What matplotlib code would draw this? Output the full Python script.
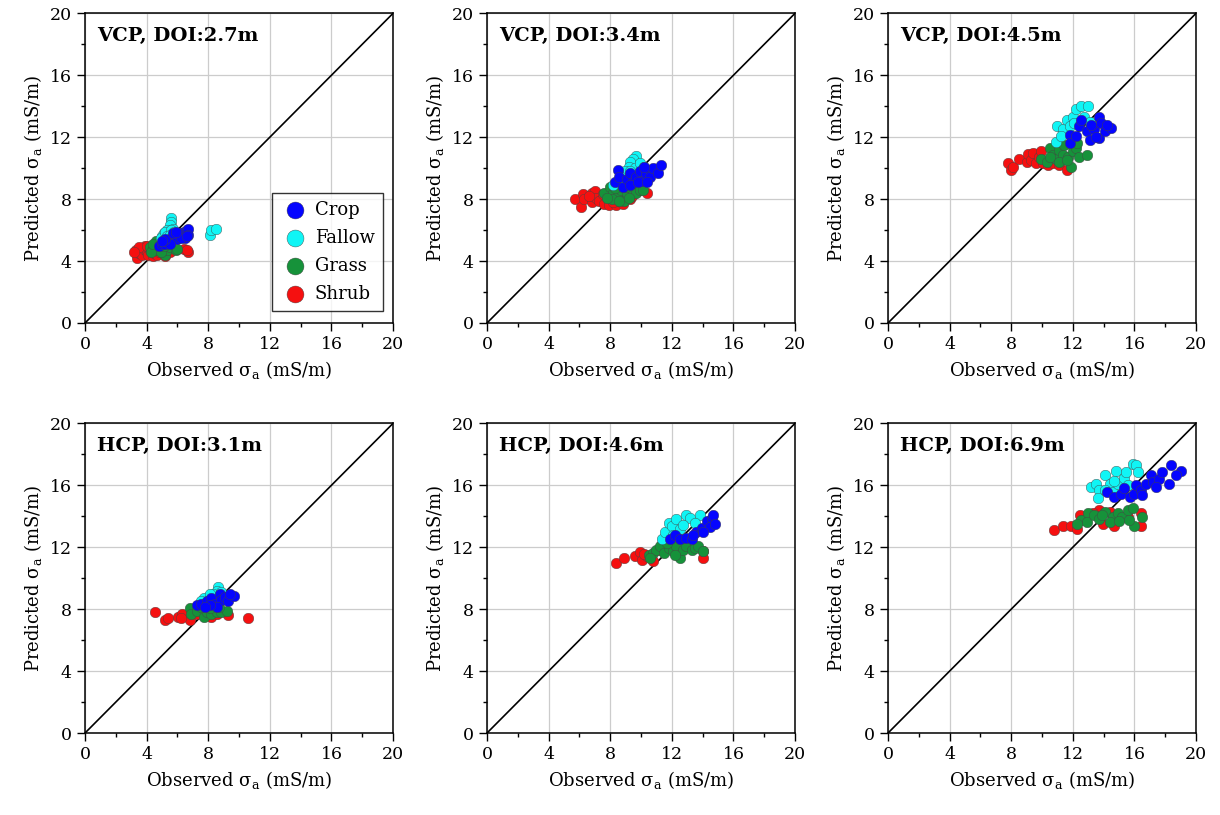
import matplotlib
matplotlib.use("Agg")
import matplotlib.pyplot as plt
from matplotlib.ticker import MultipleLocator

plt.rcParams['font.family'] = ['DejaVu Serif']
plt.rcParams['mathtext.fontset'] = 'dejavuserif'

classes = ["Crop", "Fallow", "Grass", "Shrub"]
colors = ["#0505ff", "#10f5f5", "#16923a", "#f51010"]
titles = ["VCP, DOI:2.7m", "VCP, DOI:3.4m", "VCP, DOI:4.5m",
          "HCP, DOI:3.1m", "HCP, DOI:4.6m", "HCP, DOI:6.9m"]

# (observed, predicted) pairs per panel and class
vcp27_crop = [(4.8, 5.0), (5.0, 5.1), (5.1, 5.2), (5.2, 5.1), (5.3, 5.3), (5.4, 5.2), (5.5, 5.4),
              (5.6, 5.3), (5.7, 5.5), (5.8, 5.6), (5.9, 5.5), (6.0, 5.7), (6.1, 5.6), (6.2, 5.8),
              (6.3, 5.7), (6.4, 5.9), (6.5, 5.8), (6.6, 6.0), (6.7, 6.1), (6.7, 5.7), (6.5, 5.5),
              (6.0, 5.4), (5.5, 5.1), (5.2, 5.4), (5.7, 5.8), (6.2, 5.5), (5.0, 5.3), (5.9, 5.9),
              (6.6, 5.6)]
vcp27_fallow = [(5.6, 6.8), (5.6, 6.5), (5.5, 6.3), (5.3, 6.0), (5.1, 5.8), (5.0, 5.6), (4.9, 5.5),
                (5.4, 5.8), (5.7, 6.1), (5.2, 5.9), (5.6, 6.0), (5.8, 5.9), (5.3, 5.6), (5.5, 5.7),
                (8.1, 5.7), (8.2, 6.0), (8.5, 6.1)]
vcp27_grass = [(4.2, 4.9), (4.4, 4.8), (4.5, 5.0), (4.6, 4.7), (4.7, 4.9), (4.8, 5.2), (4.6, 5.3),
               (5.0, 4.8), (5.2, 4.4), (5.3, 4.7), (5.5, 4.9), (5.9, 4.7), (6.0, 4.8), (4.3, 4.6),
               (4.9, 4.6), (5.1, 5.0), (4.4, 5.1)]
vcp27_shrub = [(3.3, 4.7), (3.4, 4.2), (3.5, 4.5), (3.6, 4.7), (3.7, 4.4), (3.8, 4.8), (3.9, 5.0),
               (4.0, 4.6), (4.1, 4.4), (4.2, 4.7), (4.4, 4.3), (4.5, 4.5), (4.7, 4.4), (3.5, 4.9),
               (4.0, 5.0), (5.2, 4.3), (5.5, 4.6), (6.4, 4.8), (6.7, 4.6), (6.6, 4.7), (3.2, 4.6),
               (4.8, 4.6)]

vcp34_crop = [(8.3, 9.1), (8.5, 9.9), (8.6, 9.45), (8.85, 8.8), (9.1, 9.3), (9.3, 9.7), (9.5, 9.1),
              (9.7, 9.45), (9.9, 9.8), (10.1, 9.2), (10.3, 9.7), (10.55, 9.45), (10.8, 10.0),
              (11.1, 9.7), (11.3, 10.2), (10.2, 10.1), (9.3, 8.9), (9.8, 9.1), (10.4, 9.1)]
vcp34_fallow = [(9.7, 10.8), (9.5, 10.6), (9.3, 10.4), (9.2, 10.1), (9.6, 10.0), (8.95, 9.8),
                (8.7, 9.45), (8.5, 9.1), (8.2, 8.9), (9.9, 10.3), (10.2, 10.1), (9.3, 9.8)]
vcp34_grass = [(7.6, 8.4), (8.0, 8.8), (8.2, 8.4), (8.5, 8.2), (8.7, 8.6), (8.9, 7.85), (9.1, 8.4),
               (9.5, 8.5), (9.7, 8.4), (9.9, 8.6), (8.1, 8.0), (7.8, 8.1), (8.3, 8.7), (9.0, 8.8),
               (10.1, 8.6), (8.6, 7.85), (9.2, 8.1)]
vcp34_shrub = [(5.7, 8.0), (6.2, 8.3), (6.1, 7.5), (6.3, 8.0), (6.8, 8.4), (6.8, 7.8), (7.0, 8.5),
               (7.1, 8.1), (7.3, 7.9), (7.6, 7.7), (7.9, 7.6), (8.4, 7.6), (8.6, 7.9), (9.3, 8.0),
               (9.4, 8.2), (10.4, 8.4), (6.6, 8.2), (7.5, 8.3), (8.2, 7.8), (8.8, 7.7)]

vcp45_crop = [(11.8, 12.15), (11.8, 11.6), (12.2, 12.05), (12.4, 12.7), (12.5, 13.1), (12.9, 12.4),
              (13.1, 11.8), (13.4, 12.5), (13.7, 13.3), (13.85, 12.9), (13.7, 11.95), (14.1, 12.4),
              (14.5, 12.6), (13.5, 12.0), (13.2, 12.8), (14.2, 12.8)]
vcp45_fallow = [(10.9, 11.7), (11.0, 12.7), (11.35, 12.5), (11.6, 13.1), (12.0, 13.3), (12.2, 13.8),
                (12.5, 14.0), (13.0, 14.0), (12.75, 13.3), (11.8, 12.7), (12.1, 12.9), (13.1, 13.0),
                (13.3, 12.7), (11.25, 12.05)]
vcp45_grass = [(9.95, 10.6), (10.3, 10.4), (10.5, 11.3), (10.7, 10.85), (10.9, 10.6), (11.1, 11.2),
               (11.35, 10.85), (11.45, 11.5), (11.7, 10.75), (11.9, 10.1), (12.0, 11.1),
               (12.2, 11.3), (12.4, 10.75), (12.9, 10.85), (10.5, 10.75), (11.1, 10.4),
               (12.3, 11.6), (11.6, 10.5)]
vcp45_shrub = [(7.8, 10.3), (8.0, 9.9), (8.1, 10.1), (8.5, 10.6), (9.0, 10.4), (9.1, 10.9), (9.3, 10.5),
               (9.4, 11.0), (9.6, 10.3), (9.8, 10.75), (10.05, 10.3), (10.4, 10.2), (10.7, 10.3),
               (11.1, 10.2), (11.6, 9.9), (9.9, 11.1)]

hcp31_crop = [(7.25, 8.25), (7.55, 8.35), (7.9, 8.5), (8.2, 8.7), (8.45, 8.35), (8.75, 9.0),
              (8.85, 8.6), (9.1, 8.8), (9.3, 8.5), (9.7, 8.85), (9.4, 9.0), (8.55, 8.15),
              (8.1, 8.25), (7.8, 8.15)]
hcp31_fallow = [(8.65, 9.45), (8.55, 9.2), (8.3, 9.0), (8.0, 8.8), (7.7, 8.7), (7.5, 8.5),
                (8.85, 9.1), (8.1, 9.0)]
hcp31_grass = [(6.8, 8.05), (6.9, 7.7), (7.25, 7.9), (7.7, 7.5), (7.9, 7.8), (8.2, 7.7), (8.55, 7.8),
               (8.85, 7.8), (9.2, 7.9), (7.5, 8.15), (8.1, 8.05), (8.7, 8.15)]
hcp31_shrub = [(4.55, 7.8), (5.2, 7.3), (5.4, 7.45), (6.05, 7.5), (6.3, 7.7), (6.8, 7.3), (7.25, 7.7),
               (8.2, 7.5), (8.55, 7.7), (9.3, 7.6), (10.6, 7.45), (6.2, 7.4)]

hcp46_crop = [(11.9, 12.5), (12.2, 12.8), (12.5, 12.5), (12.95, 12.6), (13.3, 12.5), (13.6, 13.0),
              (13.95, 13.25), (14.3, 13.7), (14.6, 13.9), (14.7, 14.1), (14.5, 13.3), (14.05, 12.95),
              (14.8, 13.5), (13.4, 12.8)]
hcp46_fallow = [(11.35, 12.5), (11.55, 13.0), (11.8, 13.55), (12.0, 13.35), (12.3, 13.8), (12.5, 13.15),
                (12.95, 14.1), (13.2, 13.9), (12.75, 13.45), (13.85, 14.1), (13.5, 13.55), (12.1, 12.8)]
hcp46_grass = [(10.5, 11.5), (10.8, 11.6), (11.0, 11.85), (11.25, 12.05), (11.5, 11.6), (11.8, 11.95),
               (12.1, 11.75), (12.3, 12.05), (12.5, 11.3), (12.75, 11.85), (12.95, 12.05), (13.3, 11.85),
               (13.5, 11.95), (13.7, 12.05), (14.05, 11.75), (12.2, 11.5), (11.7, 12.3), (10.6, 11.3)]
hcp46_shrub = [(8.4, 11.0), (8.9, 11.3), (9.6, 11.45), (9.95, 11.7), (10.05, 11.2), (10.4, 11.4),
               (10.8, 11.1), (11.25, 11.85), (14.05, 11.3), (14.05, 11.75), (10.2, 11.55)]

hcp69_crop = [(14.2, 15.55), (14.7, 15.25), (15.1, 15.45), (15.35, 15.8), (15.7, 15.25), (16.0, 15.45),
              (16.1, 16.0), (16.4, 15.7), (16.75, 16.1), (17.1, 16.65), (17.2, 16.2), (17.6, 16.4),
              (17.8, 16.85), (18.25, 16.1), (18.35, 17.3), (19.0, 16.95), (18.7, 16.65), (16.5, 15.35),
              (17.4, 15.9)]
hcp69_fallow = [(13.2, 15.9), (13.5, 16.1), (13.7, 15.7), (13.6, 15.15), (14.1, 16.65), (14.4, 16.1),
                (14.6, 15.55), (14.8, 16.95), (14.9, 16.1), (15.35, 16.45), (15.45, 16.85), (15.55, 16.0),
                (15.9, 17.4), (16.1, 17.3), (16.2, 16.85), (14.1, 15.7), (14.7, 16.3)]
hcp69_grass = [(12.5, 13.75), (13.0, 14.2), (12.9, 13.6), (13.4, 14.05), (13.7, 13.85), (14.1, 14.3),
               (14.6, 13.95), (14.9, 14.2), (15.2, 13.95), (15.55, 14.4), (15.9, 14.5), (16.0, 13.4),
               (16.5, 13.95), (14.4, 13.6), (15.0, 13.7), (12.3, 13.5), (13.9, 14.05), (15.65, 13.75)]
hcp69_shrub = [(10.8, 13.1), (11.35, 13.4), (11.9, 13.4), (12.3, 13.2), (12.45, 14.05), (13.7, 14.4),
               (13.95, 13.5), (14.7, 13.4), (15.6, 13.95), (16.4, 14.2), (16.4, 13.4), (13.3, 14.2),
               (14.4, 14.3)]

panels = [
    [vcp27_crop, vcp27_fallow, vcp27_grass, vcp27_shrub],
    [vcp34_crop, vcp34_fallow, vcp34_grass, vcp34_shrub],
    [vcp45_crop, vcp45_fallow, vcp45_grass, vcp45_shrub],
    [hcp31_crop, hcp31_fallow, hcp31_grass, hcp31_shrub],
    [hcp46_crop, hcp46_fallow, hcp46_grass, hcp46_shrub],
    [hcp69_crop, hcp69_fallow, hcp69_grass, hcp69_shrub],
]

fig = plt.figure(figsize=(12.2, 8.15), dpi=100)
lefts = [0.0697, 0.3992, 0.7279]
bottoms = [0.6037, 0.1006]
w, h = 0.2525, 0.380

# draw order: shrub underneath, crop on top
order = [3, 2, 1, 0]

for i, (title, data) in enumerate(zip(titles, panels)):
    ax = fig.add_axes([lefts[i % 3], bottoms[i // 3], w, h])
    ax.set_xlim(0, 20)
    ax.set_ylim(0, 20)
    ax.grid(True, color="#cccccc", lw=0.9, zorder=0)
    ax.set_axisbelow(True)
    ax.plot([0, 20], [0, 20], color="black", lw=1.2, zorder=1)
    for k in order:
        pts = data[k]
        ax.scatter([p[0] for p in pts], [p[1] for p in pts], s=58, c=colors[k],
                   edgecolors="#444444", linewidths=0.3, label=classes[k], zorder=3)
    ax.xaxis.set_major_locator(MultipleLocator(4))
    ax.yaxis.set_major_locator(MultipleLocator(4))
    ax.xaxis.set_minor_locator(MultipleLocator(2))
    ax.yaxis.set_minor_locator(MultipleLocator(2))
    ax.tick_params(which="major", direction="out", length=6, labelsize=12.5, width=1)
    ax.tick_params(which="minor", direction="out", length=3, width=1)
    for sp in ax.spines.values():
        sp.set_linewidth(1.1)
    ax.set_xlabel(r"Observed $\mathregular{\sigma_a}$ (mS/m)", fontsize=13)
    ax.set_ylabel(r"Predicted $\mathregular{\sigma_a}$ (mS/m)", fontsize=13)
    ax.text(0.04, 0.955, title, transform=ax.transAxes, fontsize=14,
            fontweight="bold", va="top", ha="left")
    if i == 0:
        handles, labels = ax.get_legend_handles_labels()
        hl = dict(zip(labels, handles))
        leg = ax.legend([hl[c] for c in classes], classes, loc="lower right",
                        bbox_to_anchor=(0.967, 0.039), borderaxespad=0,
                        fontsize=13, frameon=True, fancybox=False, edgecolor="black",
                        markerscale=1.6, handletextpad=0.3, borderpad=0.45,
                        labelspacing=0.55, handlelength=1.6)
        leg.get_frame().set_linewidth(1.0)

fig.savefig("out.png", dpi=100)
